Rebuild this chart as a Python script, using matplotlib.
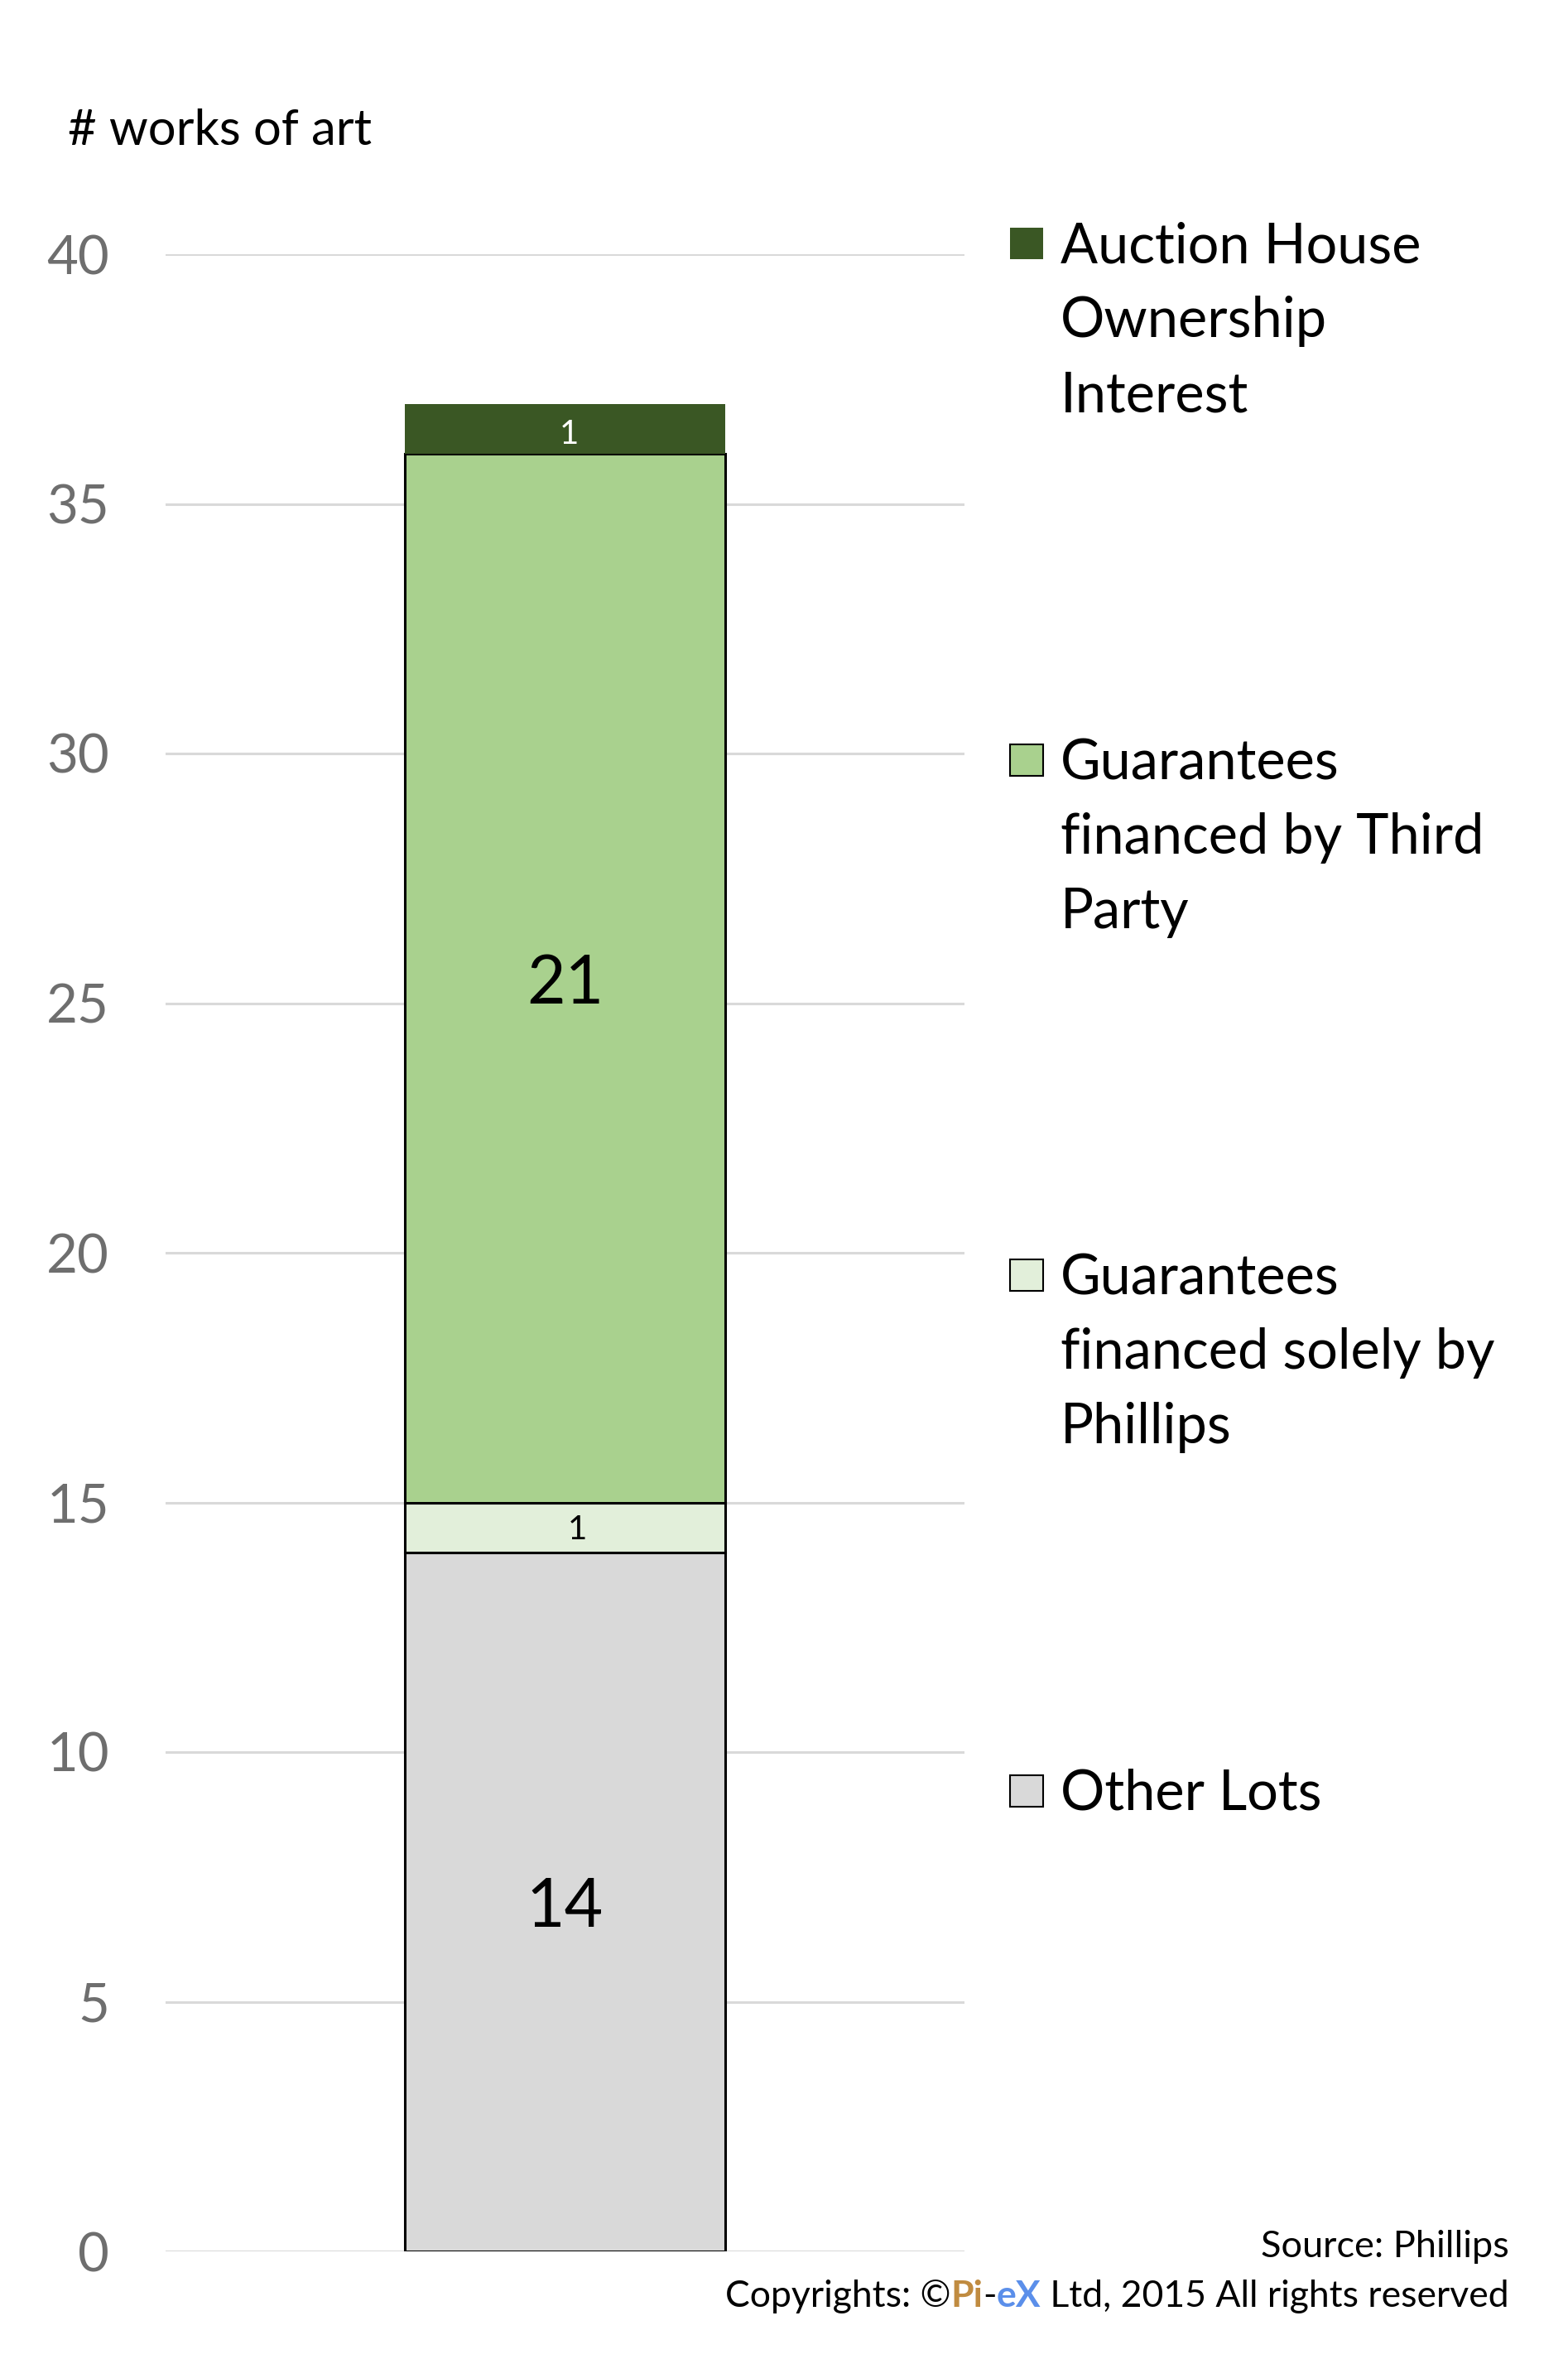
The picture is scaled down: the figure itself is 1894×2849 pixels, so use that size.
import matplotlib
matplotlib.use("Agg")
import matplotlib.pyplot as plt
from matplotlib.patches import Rectangle

plt.rcParams['font.family'] = ['Lato', 'DejaVu Sans']

W, H = 1894, 2849
DPI = 100

categories = ["Phillips"]
series_names = ["Other Lots", "Guarantees financed solely by Phillips",
                "Guarantees financed by Third Party", "Auction House Ownership Interest"]
values_other = [14]
values_solely = [1]
values_third = [21]
values_owner = [1]
legend_labels = ["Auction House\nOwnership\nInterest",
                 "Guarantees\nfinanced by Third\nParty",
                 "Guarantees\nfinanced solely by\nPhillips",
                 "Other Lots"]
y_ticks = [0, 5, 10, 15, 20, 25, 30, 35, 40]

colors = {"other": "#D9D9D9", "solely": "#E2EFDA", "third": "#A9D18E", "owner": "#3A5724"}

def fx(x):
    return x / W

def fy(y):
    return 1 - y / H

fig = plt.figure(figsize=(W / DPI, H / DPI), dpi=DPI)
ax = fig.add_axes([fx(200), fy(2719), fx(1165) - fx(200), fy(307) - fy(2719)])

x = [0]
bw = 0.401
ax.bar(x, values_other, width=bw, color=colors["other"], edgecolor="black", linewidth=2.2, zorder=3)
ax.bar(x, values_solely, width=bw, bottom=values_other, color=colors["solely"],
       edgecolor="black", linewidth=2.2, zorder=3)
bot3 = [a + b for a, b in zip(values_other, values_solely)]
ax.bar(x, values_third, width=bw, bottom=bot3, color=colors["third"],
       edgecolor="black", linewidth=2.2, zorder=3)
bot4 = [a + b for a, b in zip(bot3, values_third)]
ax.bar(x, values_owner, width=bw, bottom=bot4, color=colors["owner"],
       edgecolor="none", linewidth=0, zorder=3)

ax.set_xlim(-0.5, 0.5)
ax.set_ylim(0, 40)
ax.set_yticks(y_ticks)
ax.set_yticklabels([str(t) for t in y_ticks], fontsize=47, color="#6E6E6E")
ax.set_xticks([])
ax.tick_params(axis='y', length=0, pad=49)
ax.grid(axis='y', color="#D9D9D9", linewidth=2.2, zorder=0)
for s in ax.spines.values():
    s.set_visible(False)

# bar labels
ax.text(0, values_other[0] / 2 - 0.12, str(values_other[0]), ha='center', va='center', fontsize=58,
        color='black', zorder=5)
ax.text(0.015, values_other[0] + values_solely[0] / 2 - 0.05, str(values_solely[0]), ha='center',
        va='center', fontsize=29, color='black', zorder=5)
ax.text(0, bot3[0] + values_third[0] / 2 - 0.12, str(values_third[0]), ha='center', va='center',
        fontsize=58, color='black', zorder=5)
ax.text(0.005, bot4[0] + values_owner[0] / 2 - 0.1, str(values_owner[0]), ha='center', va='center',
        fontsize=29, color='white', zorder=5)

# title
fig.text(fx(82), fy(158), "# works of art", fontsize=43, color='black', ha='left', va='center')

# legend (manual)
leg_colors = [colors["owner"], colors["third"], colors["solely"], colors["other"]]
leg_edges = ["none", "black", "black", "black"]
leg_y = [294, 918, 1540, 2163]
for lab, c, ec, yy in zip(legend_labels, leg_colors, leg_edges, leg_y):
    fig.patches.append(Rectangle((fx(1220), fy(yy + 19)), fx(40), fy(yy - 19) - fy(yy + 19),
                                 transform=fig.transFigure, facecolor=c, edgecolor=ec,
                                 linewidth=1.5))
    fig.text(fx(1281), fy(yy - 27), lab, fontsize=48, color='black', ha='left', va='top',
             linespacing=1.56)

# source
fig.text(fx(1823), fy(2713), "Source: Phillips", fontsize=32.5, ha='right', va='center')

# copyright with coloured parts (right aligned)
renderer = fig.canvas.get_renderer()
parts = [("Copyrights: ©", "black"), ("Pi", "#C08B40"), ("-", "black"), ("eX", "#5B8FEA"),
         (" Ltd, 2015 All rights reserved", "black")]
cur = fx(1823)
ycop = fy(2773)
for txt, col in reversed(parts):
    t = fig.text(cur, ycop, txt, fontsize=32, color=col, ha='right', va='center',
                 fontweight='bold' if col != 'black' else 'normal')
    bb = t.get_window_extent(renderer=renderer)
    cur -= bb.width / W

fig.savefig("out.png", dpi=DPI)
